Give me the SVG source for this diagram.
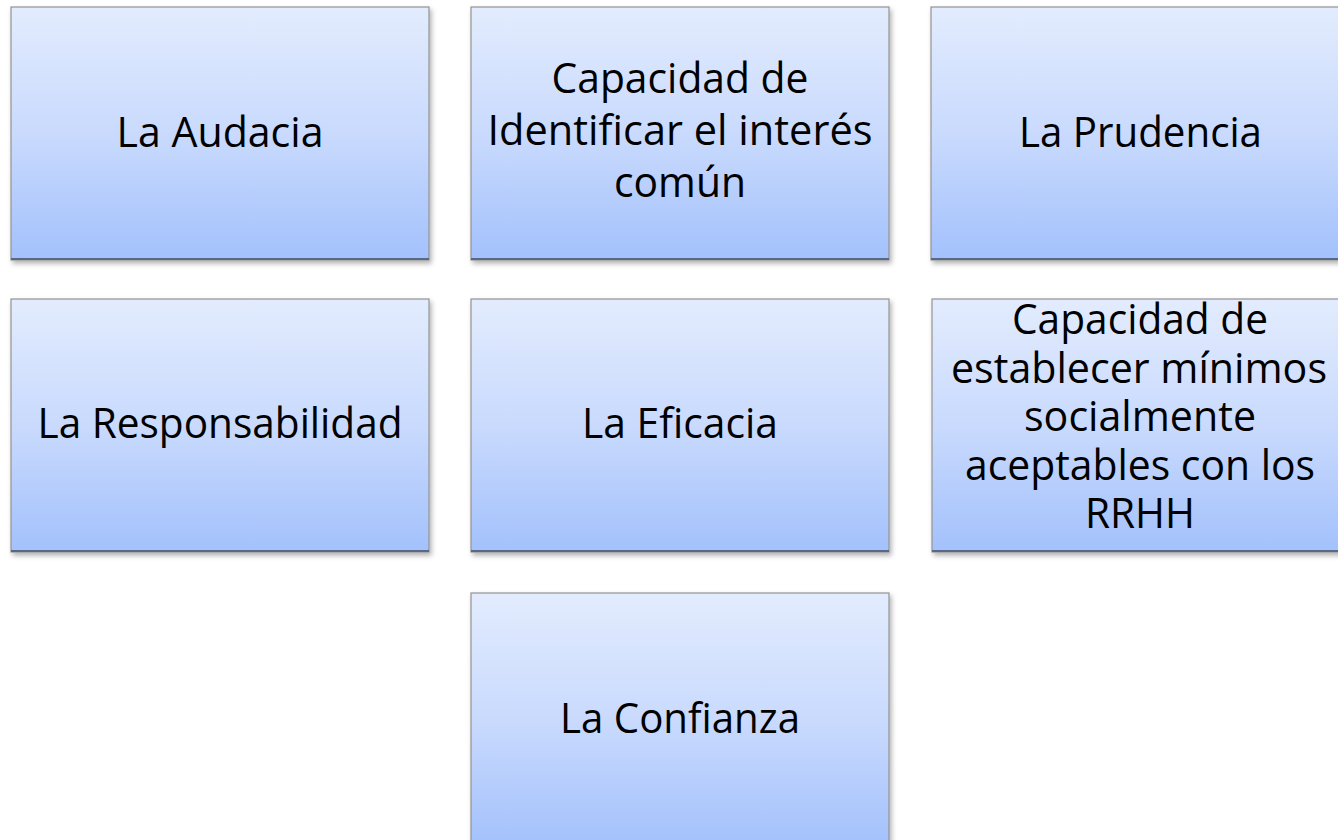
<svg xmlns="http://www.w3.org/2000/svg" width="1338" height="840" viewBox="0 0 1338 840">
<defs>
<linearGradient id="g" x1="0" y1="0" x2="0" y2="1">
<stop offset="0" stop-color="#E3ECFE"/>
<stop offset="0.5" stop-color="#C9DAFD"/>
<stop offset="1" stop-color="#A3C1FC"/>
</linearGradient>
<filter id="sh" x="-5%" y="-5%" width="115%" height="115%">
<feDropShadow dx="2" dy="3" stdDeviation="2.5" flood-color="#000" flood-opacity="0.3"/>
</filter>
</defs>
<style>
.box{fill:url(#g);stroke:#939393;stroke-width:1.2;filter:url(#sh)}
.bot{stroke:#5A6888;stroke-width:2}
.t{font-family:"Open Sans","Liberation Sans",sans-serif;font-size:42px;fill:#000;text-anchor:middle}
</style>
<rect width="1338" height="840" fill="#fff"/>
<g id="connectors"/>
<g id="n1">
<rect class="box" x="11" y="7" width="418" height="253"/>
<line class="bot" x1="11" y1="259" x2="429" y2="259"/>
<text class="t" x="220" y="147" textLength="207" lengthAdjust="spacingAndGlyphs">La Audacia</text>
</g>
<g id="n2">
<rect class="box" x="471" y="7" width="418" height="253"/>
<line class="bot" x1="471" y1="259" x2="889" y2="259"/>
<text class="t" x="680" y="93" textLength="257" lengthAdjust="spacingAndGlyphs">Capacidad de</text>
<text class="t" x="680" y="145" textLength="385" lengthAdjust="spacingAndGlyphs">Identificar el interés</text>
<text class="t" x="680" y="197" textLength="132" lengthAdjust="spacingAndGlyphs">común</text>
</g>
<g id="n3">
<rect class="box" x="931" y="7" width="418" height="253"/>
<line class="bot" x1="931" y1="259" x2="1349" y2="259"/>
<text class="t" x="1140.5" y="147" textLength="243" lengthAdjust="spacingAndGlyphs">La Prudencia</text>
</g>
<g id="n4">
<rect class="box" x="11" y="299" width="418" height="253"/>
<line class="bot" x1="11" y1="551" x2="429" y2="551"/>
<text class="t" x="220" y="438" textLength="365" lengthAdjust="spacingAndGlyphs">La Responsabilidad</text>
</g>
<g id="n5">
<rect class="box" x="471" y="299" width="418" height="253"/>
<line class="bot" x1="471" y1="551" x2="889" y2="551"/>
<text class="t" x="680" y="438" textLength="196" lengthAdjust="spacingAndGlyphs">La Eficacia</text>
</g>
<g id="n6">
<rect class="box" x="932" y="299" width="418" height="253"/>
<line class="bot" x1="932" y1="551" x2="1350" y2="551"/>
<text class="t" x="1140" y="334" textLength="256" lengthAdjust="spacingAndGlyphs">Capacidad de</text>
<text class="t" x="1139" y="382.5" textLength="376" lengthAdjust="spacingAndGlyphs">establecer mínimos</text>
<text class="t" x="1140" y="431" textLength="232" lengthAdjust="spacingAndGlyphs">socialmente</text>
<text class="t" x="1140" y="479.5" textLength="350" lengthAdjust="spacingAndGlyphs">aceptables con los</text>
<text class="t" x="1140" y="528" textLength="110" lengthAdjust="spacingAndGlyphs">RRHH</text>
</g>
<g id="n7">
<rect class="box" x="471" y="593" width="418" height="253"/>
<text class="t" x="680" y="733" textLength="240" lengthAdjust="spacingAndGlyphs">La Confianza</text>
</g>
</svg>
